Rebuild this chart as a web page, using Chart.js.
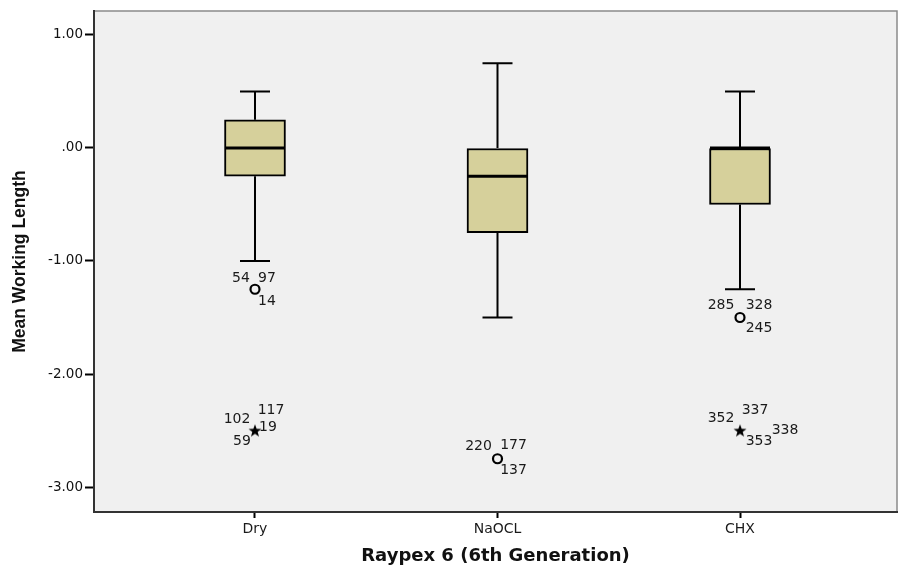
<!DOCTYPE html>
<html>
<head>
<meta charset="utf-8">
<title>Mean Working Length - Raypex 6</title>
<script src="https://cdn.jsdelivr.net/npm/chart.js@4.4.1/dist/chart.umd.min.js"></script>
<style>
    body { margin: 0; background: #ffffff; }
    #wrap { width: 899px; height: 569px; }
</style>
</head>
<body>
<div id="wrap"><canvas id="box-chart" width="899" height="569"></canvas></div>
<script>
// box plot values
const categories = ['Dry', 'NaOCL', 'CHX'];
const whiskerLow = [-1.00, -1.50, -1.25];
const q1 = [-0.25, -0.75, -0.50];
const median = [0.00, -0.25, 0.00];
const q3 = [0.25, 0.00, 0.00];
const whiskerHigh = [0.50, 0.75, 0.50];

// outliers (o) and extremes (*) with their case numbers
const circleValues = [-1.25, -2.75, -1.50];
const circleIds = [['54', '97', '14'], ['220', '177', '137'], ['285', '328', '245']];
const starValues = [-2.50, null, -2.50];
const starIds = [['102', '117', '19', '59'], [], ['352', '337', '338', '353']];

const yTickValues = [1, 0, -1, -2, -3];
const yTickLabels = ['1.00', '.00', '-1.00', '-2.00', '-3.00'];

// where each case number sits around its marker (pixels)
const circleLabelOffsets = [
    [[-14, -11], [12, -11], [12, 12]],
    [[-19, -12], [16, -13], [16, 12]],
    [[-19, -12], [19, -12], [19, 11]]
];
const starLabelOffsets = [
    [[-18, -11], [16, -20], [13, -3], [-13, 11]],
    [],
    [[-19, -12], [15, -20], [45, 0], [19, 11]]
];

var boxFill = '#d6d09b';
var labelFont = '14px "DejaVu Sans", "Liberation Sans", sans-serif';

// filled star marker like the SPSS extreme symbol
function makeStar() {
    var c = document.createElement('canvas');
    c.width = 14; c.height = 14;
    var g = c.getContext('2d');
    g.fillStyle = '#000';
    g.beginPath();
    for (var k = 0; k < 10; k++) {
        var r = k % 2 === 0 ? 6.8 : 2.8;
        var a = -Math.PI / 2 + k * Math.PI / 5;
        var px = 7 + r * Math.cos(a), py = 7.5 + r * Math.sin(a);
        if (k === 0) g.moveTo(px, py); else g.lineTo(px, py);
    }
    g.closePath();
    g.fill();
    return c;
}

var boxData = categories.map(function (c, i) { return { x: i + 1, y: [q1[i], q3[i]] }; });
var circleData = [];
circleValues.forEach(function (v, i) { if (v !== null) circleData.push({ x: i + 1, y: v }); });
var starData = [];
starValues.forEach(function (v, i) { if (v !== null) starData.push({ x: i + 1, y: v }); });

var boxPlotPlugin = {
    id: 'boxPlot',
    beforeDraw: function (chart) {
        var ctx = chart.ctx, a = chart.chartArea;
        ctx.save();
        ctx.fillStyle = '#f0f0f0';
        ctx.fillRect(a.left, a.top, a.right - a.left, a.bottom - a.top);
        ctx.strokeStyle = '#8a8a8a';
        ctx.lineWidth = 1.5;
        ctx.beginPath();
        ctx.moveTo(a.left, a.top);
        ctx.lineTo(a.right, a.top);
        ctx.lineTo(a.right, a.bottom);
        ctx.stroke();
        ctx.restore();
    },
    beforeDatasetsDraw: function (chart) {
        // whiskers and caps
        var ctx = chart.ctx, x = chart.scales.x, y = chart.scales.y;
        ctx.save();
        ctx.strokeStyle = '#000';
        ctx.lineWidth = 2;
        categories.forEach(function (c, i) {
            var cx = x.getPixelForValue(i + 1);
            ctx.beginPath();
            ctx.moveTo(cx, y.getPixelForValue(whiskerHigh[i]));
            ctx.lineTo(cx, y.getPixelForValue(q3[i]));
            ctx.moveTo(cx, y.getPixelForValue(q1[i]));
            ctx.lineTo(cx, y.getPixelForValue(whiskerLow[i]));
            ctx.moveTo(cx - 15, y.getPixelForValue(whiskerHigh[i]));
            ctx.lineTo(cx + 15, y.getPixelForValue(whiskerHigh[i]));
            ctx.moveTo(cx - 15, y.getPixelForValue(whiskerLow[i]));
            ctx.lineTo(cx + 15, y.getPixelForValue(whiskerLow[i]));
            ctx.stroke();
        });
        ctx.restore();
    },
    afterDatasetsDraw: function (chart) {
        var ctx = chart.ctx, x = chart.scales.x, y = chart.scales.y;
        ctx.save();
        // medians
        ctx.strokeStyle = '#000';
        ctx.lineWidth = 3;
        categories.forEach(function (c, i) {
            var cx = x.getPixelForValue(i + 1);
            var my = y.getPixelForValue(median[i]);
            ctx.beginPath();
            ctx.moveTo(cx - 30, my);
            ctx.lineTo(cx + 30, my);
            ctx.stroke();
        });
        // case numbers
        ctx.fillStyle = '#1a1a1a';
        ctx.font = labelFont;
        ctx.textAlign = 'center';
        ctx.textBaseline = 'middle';
        function writeIds(values, ids, offsets) {
            values.forEach(function (v, i) {
                if (v === null) return;
                var cx = x.getPixelForValue(i + 1), cy = y.getPixelForValue(v);
                ids[i].forEach(function (id, k) {
                    ctx.fillText(id, cx + offsets[i][k][0], cy + offsets[i][k][1]);
                });
            });
        }
        writeIds(circleValues, circleIds, circleLabelOffsets);
        writeIds(starValues, starIds, starLabelOffsets);
        ctx.restore();
    }
};

var ctx = document.getElementById('box-chart').getContext('2d');
var chart = new Chart(ctx, {
    type: 'bar',
    data: {
        datasets: [{
            label: 'Box',
            data: boxData,
            backgroundColor: boxFill,
            borderColor: '#000',
            borderWidth: 2,
            borderSkipped: false,
            barThickness: 61
        }, {
            type: 'scatter',
            label: 'Outliers',
            data: circleData,
            pointStyle: 'circle',
            pointRadius: 4.5,
            borderColor: '#000',
            borderWidth: 2.2,
            backgroundColor: 'rgba(0,0,0,0)'
        }, {
            type: 'scatter',
            label: 'Extremes',
            data: starData,
            pointStyle: makeStar(),
            pointRadius: 7
        }]
    },
    options: {
        responsive: false,
        animation: false,
        layout: { autoPadding: false, padding: { left: 0, top: 11, right: 2, bottom: 0 } },
        plugins: {
            legend: { display: false },
            tooltip: { enabled: false }
        },
        scales: {
            x: {
                type: 'linear',
                offset: false,
                min: 0.3361,
                max: 3.6474,
                afterBuildTicks: function (scale) {
                    scale.ticks = categories.map(function (c, i) { return { value: i + 1 }; });
                },
                afterFit: function (scale) { scale.height = 57; },
                ticks: {
                    callback: function (v) { return categories[v - 1]; },
                    color: '#1a1a1a',
                    font: { family: '"DejaVu Sans", sans-serif', size: 14 },
                    padding: 3,
                    maxRotation: 0
                },
                grid: {
                    offset: false,
                    drawOnChartArea: false,
                    drawTicks: true,
                    tickLength: 6,
                    tickColor: '#000',
                    tickWidth: 2
                },
                border: { display: true, color: '#333', width: 2 },
                title: {
                    display: true,
                    text: 'Raypex 6 (6th Generation)',
                    color: '#111',
                    font: { family: '"DejaVu Sans", sans-serif', size: 18, weight: 'bold' },
                    padding: { top: 0, bottom: 2 }
                }
            },
            y: {
                min: -3.221,
                max: 1.212,
                afterBuildTicks: function (scale) {
                    scale.ticks = yTickValues.map(function (v) { return { value: v }; });
                },
                afterFit: function (scale) { scale.width = 94; },
                ticks: {
                    callback: function (v) { return yTickLabels[yTickValues.indexOf(v)]; },
                    color: '#111',
                    font: { family: '"DejaVu Sans", sans-serif', size: 13.5 },
                    padding: 2
                },
                grid: {
                    drawOnChartArea: false,
                    drawTicks: true,
                    tickLength: 9,
                    tickColor: '#000',
                    tickWidth: 2
                },
                border: { display: true, color: '#333', width: 2 },
                title: {
                    display: true,
                    text: 'Mean Working Length',
                    color: '#111',
                    font: { family: '"Liberation Sans", Arial, sans-serif', size: 17.5, weight: 'bold' },
                    padding: { top: 10, bottom: 0 }
                }
            }
        }
    },
    plugins: [boxPlotPlugin]
});
</script>
</body>
</html>
